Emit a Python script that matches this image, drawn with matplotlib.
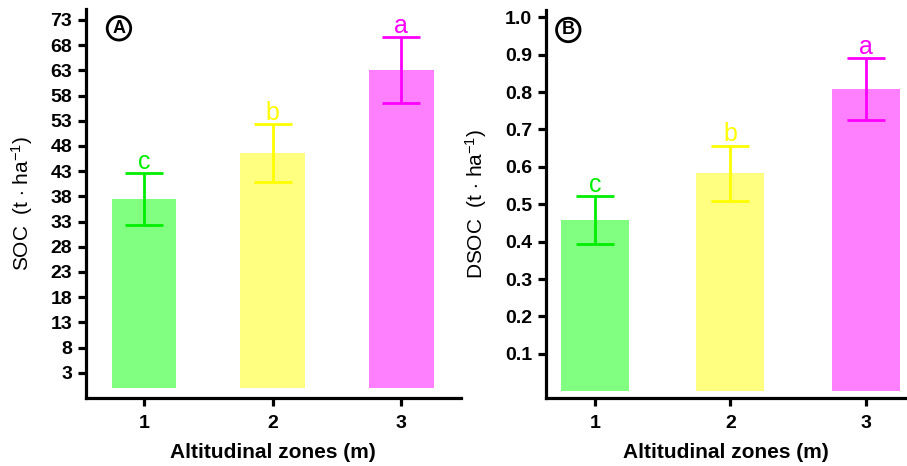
import numpy as np
import matplotlib

matplotlib.use("Agg")
import matplotlib.pyplot as plt

# ---------------------------------------------------------------- data
zones = [1, 2, 3]
soc_mean = [37.5, 46.6, 63.1]
soc_err = [5.1, 5.7, 6.5]
dsoc_mean = [0.458, 0.583, 0.808]
dsoc_err = [0.064, 0.074, 0.083]
letters = ["c", "b", "a"]

BAR_COLORS = ["#80ff80", "#ffff80", "#ff80ff"]
LINE_COLORS = ["#00ee00", "#ffff00", "#ff00ff"]

plt.rcParams.update({
    "font.family": ["Liberation Sans", "DejaVu Sans"],
    "mathtext.fontset": "custom",
    "mathtext.rm": "Liberation Sans",
    "mathtext.it": "Liberation Sans:italic",
    "mathtext.bf": "Liberation Sans:bold",
    "axes.linewidth": 2.3,
    "xtick.major.width": 2.3, "ytick.major.width": 2.3,
    "xtick.major.size": 6, "ytick.major.size": 6,
    "xtick.direction": "out", "ytick.direction": "out",
})

fig = plt.figure(figsize=(9.07, 4.66), dpi=100)
axA = fig.add_axes([0.0948, 0.146, 0.413, 0.835])
axB = fig.add_axes([0.602, 0.146, 0.396, 0.833])


def draw(ax, means, errs, ylim, xlim, yticks, fmt, ylabel, tag, tag_xy):
    for i, z in enumerate(zones):
        ax.bar(z, means[i], width=0.5, color=BAR_COLORS[i], zorder=1)
        ax.errorbar(z, means[i], yerr=errs[i], fmt="none", ecolor=LINE_COLORS[i],
                    elinewidth=2, capsize=14, capthick=2, zorder=2)
        ax.annotate(letters[i], (z, means[i] + errs[i]), xytext=(0, 3),
                    textcoords="offset points", ha="center", va="baseline",
                    fontsize=18, color=LINE_COLORS[i])
    ax.set_xlim(*xlim)
    ax.set_ylim(*ylim)
    ax.set_xticks(zones)
    ax.set_yticks(yticks)
    ax.set_yticklabels([fmt.format(v) for v in yticks])
    for lab in ax.get_xticklabels() + ax.get_yticklabels():
        lab.set_fontweight("bold")
        lab.set_fontsize(14)
    ax.tick_params(axis="y", pad=4)
    ax.tick_params(axis="x", pad=6)
    ax.spines[["top", "right"]].set_visible(False)
    ax.set_xlabel("Altitudinal zones (m)", fontsize=15, fontweight="bold", labelpad=8)
    ax.set_ylabel(ylabel, fontsize=15)
    ax.text(tag_xy[0], tag_xy[1], tag, transform=ax.transAxes, ha="center",
            va="center", fontsize=13, fontweight="bold",
            bbox=dict(boxstyle="circle,pad=0.18", fc="white", ec="black", lw=2))


draw(axA, soc_mean, soc_err, (-2, 75.2), (0.55, 3.46), list(range(3, 74, 5)), "{:d}",
     r"SOC  (t $\cdot$ ha$^{-1}$)", "A", (0.088, 0.95))
draw(axB, dsoc_mean, dsoc_err, (-0.018, 1.02), (0.64, 3.29),
     [round(0.1 * k, 1) for k in range(1, 11)], "{:.1f}",
     r"DSOC  (t $\cdot$ ha$^{-1}$)", "B", (0.062, 0.948))

axA.yaxis.set_label_coords(-0.135, 0.5)
axB.yaxis.set_label_coords(-0.16, 0.5)

fig.savefig("out.png", dpi=100)
